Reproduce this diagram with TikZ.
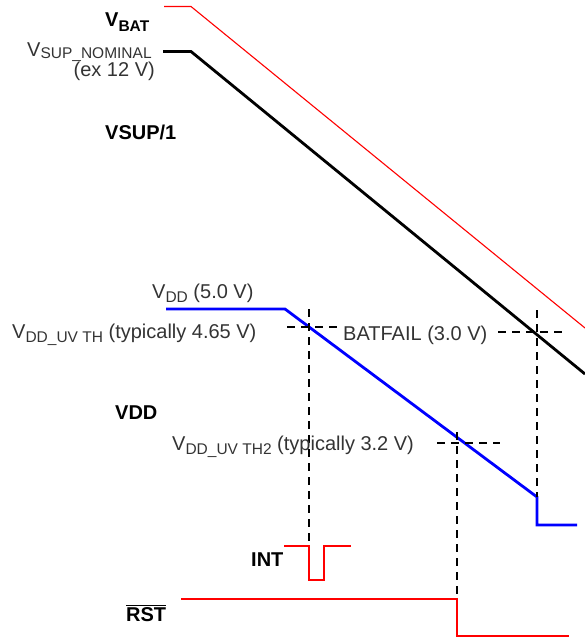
\documentclass[tikz,border=0pt]{standalone}
\usepackage{fontspec}
\setmainfont{Liberation Sans}
\newcommand{\mysub}[2][4pt]{\raisebox{-#1}{\fontsize{15.5}{15.5}\selectfont #2}}
\begin{document}
\begin{tikzpicture}[x=1pt,y=-1pt,
  lbl/.style={anchor=base west,inner sep=0pt,font=\fontsize{20}{20}\selectfont,text=black!80},
  blbl/.style={anchor=base west,inner sep=0pt,font=\fontsize{20}{20}\selectfont\bfseries,text=black},
  batline/.style={red,line width=1.1pt},
  supline/.style={black,line width=2.8pt},
  vddline/.style={blue,line width=2.8pt},
  sigline/.style={red,line width=2.8pt},
  guide/.style={black,line width=1.6pt,dash pattern=on 8pt off 6pt}]
\useasboundingbox (0,0) rectangle (585,638);
% supply lines
\coordinate (b0) at (164,6.5); \coordinate (b1) at (191,6.5); \coordinate (b2) at (585,328);
\draw[batline] (b0) -- (b1) -- (b2);
\coordinate (s0) at (163,51.5); \coordinate (s1) at (191,51.5); \coordinate (s2) at (585,374);
\draw[supline] (s0) -- (s1) -- (s2);
\coordinate (d0) at (166,309); \coordinate (d1) at (285,309); \coordinate (d2) at (537,497);
\coordinate (d3) at (537,525); \coordinate (d4) at (577,525);
\draw[vddline,line join=miter] (d0) -- (d1) -- (d2) -- (d3) -- (d4);
% guides
\coordinate (h1a) at (287,327); \coordinate (h1b) at (342,327);
\draw[guide] (h1a) -- (h1b);
\coordinate (v1a) at (309,309); \coordinate (v1b) at (309,546);
\draw[guide] (v1a) -- (v1b);
\coordinate (h2a) at (498,332); \coordinate (h2b) at (563,332);
\draw[guide] (h2a) -- (h2b);
\coordinate (v2a) at (537,310); \coordinate (v2b) at (537,497);
\draw[guide] (v2a) -- (v2b);
\coordinate (h3a) at (437,443); \coordinate (h3b) at (500,443);
\draw[guide] (h3a) -- (h3b);
\coordinate (v3a) at (457,432); \coordinate (v3b) at (457,599);
\draw[guide] (v3a) -- (v3b);
% INT
\coordinate (i0) at (284,546); \coordinate (i1) at (309,546); \coordinate (i2) at (309,580);
\coordinate (i3) at (324,580); \coordinate (i4) at (324,546); \coordinate (i5) at (351,546);
\draw[sigline] (i0) -- (i1) -- (i2) -- (i3) -- (i4) -- (i5);
% RST
\coordinate (r0) at (181,599); \coordinate (r1) at (457,599); \coordinate (r2) at (457,636); \coordinate (r3) at (569,636);
\draw[sigline] (r0) -- (r1) -- (r2) -- (r3);
% labels
\node[blbl] (lvbat) at (105,26) {V\mysub[5pt]{\bfseries BAT}};
\node[lbl] (lvsup) at (27,56) {V\mysub[2pt]{SUP\_NOMINAL}};
\node[lbl,anchor=base east] (lex) at (155,76) {(ex 12 V)};
\node[blbl] (lvsup1) at (105,139) {VSUP/1};
\node[lbl] (lvdd) at (152,298) {V\mysub{DD} (5.0 V)};
\node[lbl] (lvth) at (12,338) {V\mysub{DD\_UV TH} (typically 4.65 V)};
\node[lbl] (lbat) at (343,340) {BATFAIL (3.0 V)};
\node[blbl] (lvddb) at (115,419) {VDD};
\node[lbl] (lvth2) at (172,450) {V\mysub{DD\_UV TH2} (typically 3.2 V)};
\node[blbl] (lint) at (251,566) {INT};
\node[blbl] (lrst) at (126,621) {$\overline{\mbox{RST}}$};
\end{tikzpicture}
\end{document}
